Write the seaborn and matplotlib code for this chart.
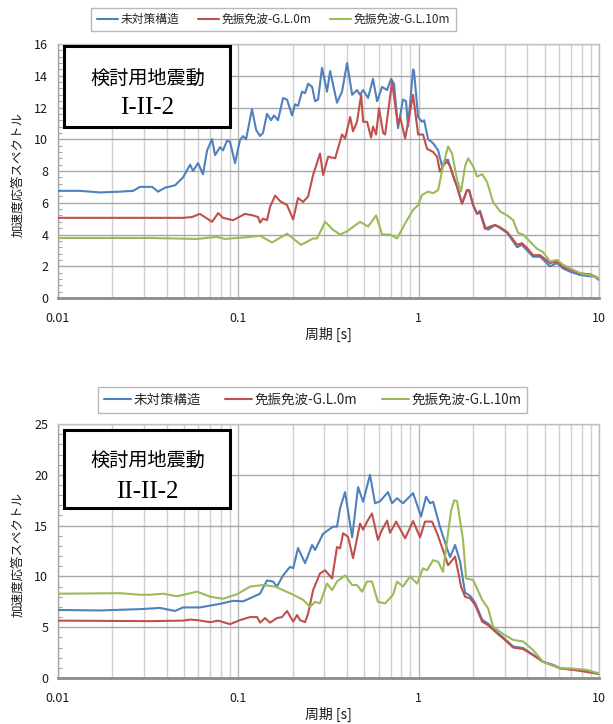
import numpy as np
import pandas as pd
import matplotlib
matplotlib.use('Agg')
import matplotlib.pyplot as plt
import seaborn as sns
from matplotlib.lines import Line2D
from matplotlib.patches import Rectangle
from matplotlib.ticker import FixedLocator, MultipleLocator, FuncFormatter, NullFormatter

# ---------------- data ----------------
series_names = ['未対策構造', '免振免波-G.L.0m', '免振免波-G.L.10m']
series_colors = ['#4F81BD', '#C0504D', '#9BBB59']
panel_titles = [('検討用地震動', 'I-II-2'), ('検討用地震動', 'II-II-2')]
x_label = '周期 [s]'
y_label = '加速度応答スペクトル'
x_ticks = [0.01, 0.1, 1, 10]

# panel 1 (I-II-2)
p1_blue_T = [0.01, 0.0132, 0.0171, 0.0221, 0.0261, 0.0285, 0.0333, 0.0359, 0.0393, 0.0446,
             0.0494, 0.054, 0.0561, 0.0598, 0.0637, 0.0671, 0.0715, 0.0743, 0.0792, 0.0822,
             0.0865, 0.0899, 0.0959, 0.1021, 0.1062, 0.1104, 0.119, 0.1254, 0.1319, 0.137,
             0.1442, 0.1518, 0.1577, 0.166, 0.177, 0.1862, 0.1986, 0.2062, 0.2143, 0.2255,
             0.2344, 0.2438, 0.2565, 0.2663, 0.2767, 0.2911, 0.3103, 0.3228, 0.3525, 0.3757,
             0.4009, 0.4276, 0.455, 0.473, 0.492, 0.524, 0.558, 0.588, 0.627, 0.668,
             0.703, 0.730, 0.768, 0.818, 0.851, 0.873, 0.931, 0.942, 0.993, 1.044,
             1.072, 1.128, 1.202, 1.282, 1.348, 1.40, 1.455, 1.552, 1.633, 1.740,
             1.854, 1.905, 2.004, 2.108, 2.188, 2.333, 2.427, 2.654, 2.831, 3.097,
             3.516, 3.741, 3.99, 4.31, 4.71, 5.35, 5.85, 6.31, 6.90, 7.84,
             8.57, 9.49, 10.0]
p1_blue_v = [6.75, 6.75, 6.65, 6.7, 6.75, 7.0, 7.0, 6.7, 6.95, 7.1,
             7.6, 8.4, 8.0, 8.5, 7.8, 9.3, 10.0, 9.0, 9.5, 9.3,
             9.9, 9.85, 8.5, 9.95, 10.2, 10.0, 11.9, 10.6, 10.2, 10.4,
             11.6, 11.2, 11.5, 11.2, 12.6, 12.5, 11.5, 12.2, 12.1, 13.0,
             12.9, 13.5, 13.3, 12.4, 12.5, 14.5, 13.0, 14.3, 12.3, 13.0,
             14.8, 12.8, 13.1, 12.8, 13.1, 12.6, 13.8, 12.4, 13.3, 13.1,
             13.8, 13.5, 10.7, 12.5, 12.4, 10.8, 14.4, 14.3, 11.4, 11.1,
             11.2, 10.0, 9.75, 9.3, 8.3, 8.7, 8.7, 7.7, 7.0, 5.95,
             6.8, 6.8, 5.85, 5.3, 5.5, 4.5, 4.3, 4.6, 4.4, 4.1,
             3.2, 3.35, 3.0, 2.6, 2.6, 2.0, 2.2, 1.87, 1.66, 1.45,
             1.39, 1.34, 1.13]

p1_red_T = [0.01, 0.0324, 0.0494, 0.0554, 0.0612, 0.0715, 0.0773, 0.0822, 0.0935, 0.1089,
            0.1207, 0.1286, 0.1319, 0.137, 0.1442, 0.15, 0.16, 0.1706, 0.1862, 0.2014,
            0.2143, 0.2285, 0.2438, 0.2597, 0.2838, 0.2951, 0.3148, 0.3443, 0.3757, 0.3908,
            0.4169, 0.4325, 0.455, 0.4797, 0.492, 0.5176, 0.5445, 0.558, 0.5808, 0.6026,
            0.6353, 0.6516, 0.7113, 0.768, 0.7889, 0.8414, 0.931, 0.993, 1.057, 1.113,
            1.202, 1.265, 1.312, 1.382, 1.436, 1.493, 1.552, 1.633, 1.740, 1.854,
            1.905, 2.004, 2.108, 2.188, 2.333, 2.488, 2.654, 2.831, 3.097, 3.516,
            3.741, 3.99, 4.31, 4.71, 5.35, 5.85, 6.31, 6.90, 7.84, 8.89,
            10.0]
p1_red_v = [5.05, 5.05, 5.05, 5.1, 5.3, 4.8, 5.35, 5.05, 4.9, 5.3,
            5.2, 5.1, 4.75, 5.0, 4.9, 5.75, 6.45, 6.1, 5.85, 4.95,
            6.3, 6.05, 6.4, 7.75, 9.1, 7.75, 8.9, 8.8, 10.3, 10.05,
            11.4, 10.5, 11.1, 12.8, 11.1, 11.1, 10.1, 10.8, 10.3, 11.95,
            10.4, 10.3, 13.6, 10.9, 11.4, 10.05, 12.8, 10.3, 10.3, 9.4,
            9.2, 8.9, 7.95, 8.4, 8.6, 8.3, 7.7, 7.0, 5.95, 6.8,
            6.75, 5.85, 5.3, 5.4, 4.35, 4.5, 4.6, 4.45, 4.15, 3.35,
            3.45, 3.15, 2.7, 2.7, 2.2, 2.3, 1.95, 1.8, 1.55, 1.5,
            1.24]

p1_green_T = [0.01, 0.0324, 0.059, 0.0762, 0.0843, 0.1089, 0.1319, 0.1538, 0.1862, 0.2228,
              0.2597, 0.2733, 0.3028, 0.335, 0.3664, 0.4009, 0.473, 0.524, 0.5808, 0.627,
              0.6935, 0.7586, 0.8414, 0.931, 0.993, 1.044, 1.128, 1.202, 1.282, 1.364,
              1.455, 1.531, 1.633, 1.718, 1.807, 1.879, 2.004, 2.108, 2.249, 2.395,
              2.585, 2.831, 3.097, 3.34, 3.559, 3.793, 4.149, 4.53, 4.89, 5.35,
              5.85, 6.31, 6.90, 7.56, 8.17, 8.89, 10.0]
p1_green_v = [3.78, 3.78, 3.72, 3.85, 3.72, 3.82, 3.92, 3.5, 4.05, 3.35,
              3.75, 3.75, 4.8, 4.3, 4.0, 4.2, 4.8, 4.5, 5.2, 4.0,
              4.0, 3.75, 4.7, 5.55, 5.85, 6.5, 6.7, 6.6, 6.8, 8.3,
              9.55, 9.1, 7.45, 6.7, 8.3, 8.8, 8.3, 7.65, 7.8, 7.3,
              6.05, 5.45, 5.2, 4.9, 4.1, 4.0, 3.55, 3.1, 2.9, 2.3,
              2.4, 2.1, 1.87, 1.66, 1.5, 1.45, 1.24]

# panel 2 (II-II-2)
p2_blue_T = [0.01, 0.0171, 0.0251, 0.0285, 0.0368, 0.0446, 0.0494, 0.0612, 0.0792, 0.0935,
             0.1062, 0.1161, 0.1319, 0.1442, 0.1556, 0.1637, 0.177, 0.1936, 0.2014, 0.2143,
             0.2344, 0.2565, 0.2663, 0.2951, 0.335, 0.3525, 0.3664, 0.3908, 0.4276, 0.4613,
             0.492, 0.537, 0.5728, 0.6109, 0.676, 0.7113, 0.7586, 0.818, 0.931, 1.031,
             1.099, 1.157, 1.202, 1.312, 1.436, 1.493, 1.592, 1.698, 1.807, 1.928,
             2.056, 2.249, 2.427, 2.72, 2.94, 3.34, 3.793, 4.31, 4.89, 5.57,
             6.10, 7.56, 8.89, 10.0]
p2_blue_v = [6.7, 6.65, 6.75, 6.78, 6.9, 6.6, 6.95, 6.95, 7.3, 7.6,
             7.55, 7.85, 8.3, 9.6, 9.5, 9.0, 10.1, 10.95, 10.8, 12.8,
             11.3, 13.1, 12.6, 14.2, 14.9, 14.9, 16.7, 18.3, 13.85, 18.8,
             17.35, 20.0, 17.2, 17.4, 18.3, 17.2, 17.7, 17.2, 18.2, 15.9,
             17.85, 17.2, 17.35, 14.9, 12.75, 11.9, 13.1, 11.45, 8.4, 8.1,
             7.4, 5.75, 5.35, 4.5, 4.0, 3.1, 2.95, 2.3, 1.6, 1.3,
             0.95, 0.8, 0.62, 0.4]

p2_red_T = [0.01, 0.0324, 0.0494, 0.054, 0.059, 0.0698, 0.0773, 0.0899, 0.1021, 0.1161,
            0.1271, 0.1319, 0.1406, 0.15, 0.1637, 0.1746, 0.1862, 0.2014, 0.2118, 0.2198,
            0.2344, 0.2438, 0.2597, 0.2838, 0.3028, 0.331, 0.3525, 0.3664, 0.381, 0.4058,
            0.4325, 0.473, 0.492, 0.5176, 0.5508, 0.5942, 0.627, 0.668, 0.6935, 0.75,
            0.8414, 0.931, 1.018, 1.084, 1.186, 1.265, 1.364, 1.455, 1.592, 1.718,
            1.807, 1.928, 2.056, 2.249, 2.427, 2.72, 2.94, 3.34, 3.793, 4.31,
            4.89, 6.10, 7.56, 10.0]
p2_red_v = [5.65, 5.6, 5.65, 5.75, 5.7, 5.5, 5.65, 5.3, 5.7, 6.0,
            6.0, 5.45, 5.9, 5.45, 5.9, 6.0, 6.6, 5.55, 6.2, 5.7,
            5.5, 6.35, 8.65, 10.3, 10.6, 9.8, 12.9, 12.75, 14.25, 13.9,
            11.8, 15.2, 14.6, 15.4, 16.2, 13.6, 14.6, 15.5, 14.3, 15.4,
            13.75, 15.45, 13.85, 15.4, 15.4, 14.25, 12.6, 11.1, 11.95, 9.0,
            8.0, 7.85, 7.2, 5.55, 5.2, 4.4, 3.9, 3.0, 2.85, 2.25,
            1.6, 0.95, 0.75, 0.4]

p2_green_T = [0.01, 0.0221, 0.0285, 0.0324, 0.0383, 0.0457, 0.059, 0.0698, 0.0824, 0.0984,
              0.1161, 0.137, 0.16, 0.177, 0.2014, 0.2285, 0.25, 0.2663, 0.2838, 0.3103,
              0.331, 0.3525, 0.3908, 0.4276, 0.455, 0.4853, 0.5176, 0.5508, 0.5942, 0.6516,
              0.7212, 0.7586, 0.818, 0.8954, 0.98, 1.057, 1.113, 1.202, 1.282, 1.364,
              1.455, 1.513, 1.573, 1.633, 1.762, 1.832, 2.004, 2.249, 2.427, 2.585,
              2.94, 3.34, 3.793, 4.31, 4.89, 6.10, 6.90, 8.57, 10.0]
p2_green_v = [8.3, 8.35, 8.2, 8.2, 8.3, 8.05, 8.5, 8.0, 7.8, 8.25,
              9.0, 9.15, 9.0, 8.65, 8.2, 7.7, 7.0, 7.5, 7.35, 9.3,
              8.65, 9.5, 10.1, 9.15, 9.15, 8.5, 9.5, 9.5, 7.5, 7.35,
              8.2, 9.5, 9.0, 10.0, 9.3, 10.8, 10.6, 11.6, 11.45, 10.45,
              14.25, 16.5, 17.5, 17.4, 13.6, 9.8, 9.65, 7.7, 6.85, 5.05,
              4.33, 3.75, 3.6, 2.75, 1.6, 0.95, 0.95, 0.8, 0.45]

panels = [
    dict(T=[p1_blue_T, p1_red_T, p1_green_T], v=[p1_blue_v, p1_red_v, p1_green_v],
         ymax=16, ystep=2, yminor=0.4),
    dict(T=[p2_blue_T, p2_red_T, p2_green_T], v=[p2_blue_v, p2_red_v, p2_green_v],
         ymax=25, ystep=5, yminor=1),
]

# ---------------- style ----------------
sns.set_style('white')
plt.rcParams['font.family'] = ['Noto Sans CJK JP', 'DejaVu Sans']

fig = plt.figure(figsize=(6.13, 7.24), dpi=100)
axes_rects = [[0.0946, 0.5884, 0.8826, 0.3508], [0.0946, 0.0635, 0.8826, 0.3508]]
legend_cfg = [dict(anchor=(0.446, 0.973), fs=8.5, hl=1.8, cs=1.6),
              dict(anchor=(0.510, 0.4475), fs=9.7, hl=2.0, cs=1.8)]
box_cfg = [dict(y0=0.673, h=0.319, l1=0.866, l2=0.748),
           dict(y0=0.6705, h=0.3055, l1=0.858, l2=0.733)]

for i, (rect, pan) in enumerate(zip(axes_rects, panels)):
    ax = fig.add_axes(rect)
    frames = []
    for name, T, v in zip(series_names, pan['T'], pan['v']):
        frames.append(pd.DataFrame({'period': T, 'value': v, 'series': name}))
    df = pd.concat(frames, ignore_index=True)
    sns.lineplot(data=df, x='period', y='value', hue='series', hue_order=series_names,
                 palette=series_colors, estimator=None, sort=False, legend=False,
                 linewidth=1.5, ax=ax, zorder=3)
    ax.set_xscale('log')
    ax.set_xlim(0.01, 10)
    ax.set_ylim(0, pan['ymax'])
    ax.xaxis.set_major_locator(FixedLocator(x_ticks))
    ax.xaxis.set_major_formatter(FuncFormatter(lambda v, p: f'{v:g}'))
    ax.xaxis.set_minor_locator(FixedLocator([m * d for d in (0.01, 0.1, 1) for m in range(2, 10)]))
    ax.xaxis.set_minor_formatter(NullFormatter())
    ax.yaxis.set_major_locator(MultipleLocator(pan['ystep']))
    ax.yaxis.set_minor_locator(MultipleLocator(pan['yminor']))

    ax.grid(which='minor', axis='x', color='#cfcfcf', linewidth=1.0, zorder=0)
    ax.grid(which='major', axis='x', color='#b8b8b8', linewidth=1.0, zorder=0)
    ax.grid(which='major', axis='y', color='#a6a6a6', linewidth=1.0, zorder=0)
    ax.set_axisbelow(True)

    ax.tick_params(axis='x', which='major', direction='out', length=5, width=1,
                   color='#8c8c8c', pad=5, labelsize=9, labelcolor='#1a1a1a')
    ax.tick_params(axis='x', which='minor', length=0)
    ax.tick_params(axis='y', which='major', direction='out', length=4, width=1,
                   color='#8c8c8c', pad=3, labelsize=9, labelcolor='#1a1a1a')
    ax.tick_params(axis='y', which='minor', direction='in', length=3, width=0.8,
                   color='#a6a6a6', left=True)

    for s in ['top', 'right']:
        ax.spines[s].set_color('#bfbfbf')
        ax.spines[s].set_linewidth(1.0)
    ax.spines['left'].set_color('#a6a6a6')
    ax.spines['left'].set_linewidth(1.0)
    ax.spines['bottom'].set_color('#8c8c8c')
    ax.spines['bottom'].set_linewidth(2.0)

    ax.set_xlabel(x_label, fontsize=10, color='#1a1a1a')
    ax.xaxis.label.set_va('center')
    ax.xaxis.set_label_coords(0.5, -0.142)
    ax.set_ylabel(y_label, fontsize=9, color='#1a1a1a')
    ax.yaxis.label.set_va('center')
    ax.yaxis.set_label_coords(-0.074, 0.485)

    bc = box_cfg[i]
    ax.add_patch(Rectangle((0.0111, bc['y0']), 0.3068, bc['h'], transform=ax.transAxes,
                           facecolor='white', edgecolor='black', linewidth=2.2, zorder=6))
    ax.text(0.1654, bc['l1'], panel_titles[i][0], transform=ax.transAxes, ha='center',
            va='center', fontsize=13.8, color='black', zorder=7)
    ax.text(0.1654, bc['l2'], panel_titles[i][1], transform=ax.transAxes, ha='center',
            va='center', fontsize=18, color='black', zorder=7,
            family=['Liberation Serif', 'DejaVu Serif'])

    lc = legend_cfg[i]
    handles = [Line2D([], [], color=c, linewidth=1.5) for c in series_colors]
    leg = fig.legend(handles, series_names, loc='center', bbox_to_anchor=lc['anchor'],
                     ncol=3, frameon=True, fancybox=False, fontsize=lc['fs'],
                     handlelength=lc['hl'], handletextpad=0.2, columnspacing=lc['cs'],
                     borderpad=0.45, borderaxespad=0)
    leg.get_frame().set_edgecolor('#a6a6a6')
    leg.get_frame().set_linewidth(1.0)

fig.savefig('out.png', dpi=100)
